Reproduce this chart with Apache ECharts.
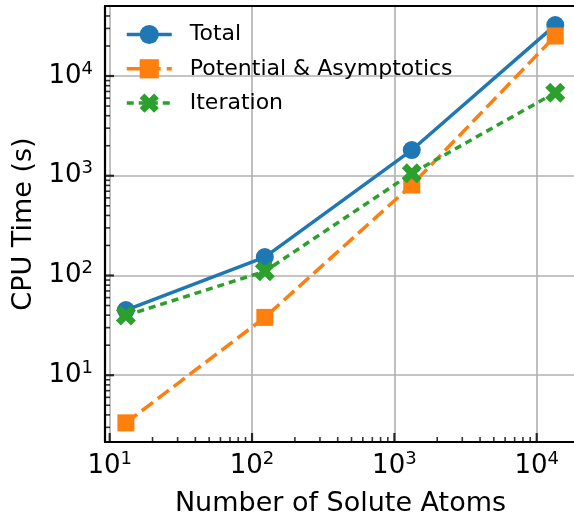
<!DOCTYPE html>
<html>
<head>
<meta charset="utf-8">
<script src="https://cdn.jsdelivr.net/npm/echarts@6/dist/echarts.min.js"></script>
<style>
html,body{margin:0;padding:0;background:#fff;}
#c{width:574px;height:514px;}
</style>
</head>
<body>
<div id="c"></div>
<script>
// ---- data ----
const atoms = [13, 123, 1325, 13500];
const totalTime = [45, 153, 1810, 32400];
const potentialTime = [3.33, 38, 807, 25200];
const iterationTime = [39.7, 110, 1057, 6810];
const seriesNames = ['Total', 'Potential & Asymptotics', 'Iteration'];
const xMajorTicks = [10, 100, 1000, 10000];
const yMajorTicks = [10, 100, 1000, 10000];
const xMinorTicks = [20,30,40,50,60,70,80,90,200,300,400,500,600,700,800,900,2000,3000,4000,5000,6000,7000,8000,9000];
const yMinorTicks = [3,4,5,6,7,8,9,20,30,40,50,60,70,80,90,200,300,400,500,600,700,800,900,2000,3000,4000,5000,6000,7000,8000,9000,20000,30000,40000];
const xRange = [9.27, 18880];
const yRange = [2.14, 50350];

const FONT = 'DejaVu Sans';
// filled X marker (matplotlib 'X'): plus rotated 45deg
function xPath() {
  const pts = [[-1,-3],[1,-3],[1,-1],[3,-1],[3,1],[1,1],[1,3],[-1,3],[-1,1],[-3,1],[-3,-1],[-1,-1]];
  const c = Math.SQRT1_2;
  const r = pts.map(p => [(p[0]*c - p[1]*c), (p[0]*c + p[1]*c)]);
  return 'path://' + r.map((p,i)=>(i?'L':'M') + (p[0]*10+30).toFixed(3) + ' ' + (p[1]*10+30).toFixed(3)).join(' ') + ' Z';
}
function pow10Label(v) {
  const l = Math.log10(v);
  const e = Math.round(l);
  if (Math.abs(l - e) > 1e-6) return '';
  return '{b|10}{s|' + e + '}';
}
const labelRich = {
  b: {fontFamily: FONT, fontSize: 26, color: '#000', lineHeight: 30},
  s: {fontFamily: FONT, fontSize: 18, color: '#000', padding: [0,0,14,0], lineHeight: 18}
};
const tickSeries = (data, size, offset) => ({
  type: 'scatter', silent: true, clip: false, animation: false,
  data, symbol: 'rect', symbolSize: size, symbolOffset: offset,
  itemStyle: {color: '#000'}, z: 5
});

const chart = echarts.init(document.getElementById('c'), null, {renderer: 'canvas'});
const mk = (name, data, color, symbol, size, type) => ({
  name, type: 'line', data: atoms.map((x,i)=>[x, data[i]]),
  symbol, symbolSize: size, showSymbol: true,
  lineStyle: {color, width: 3.5, type},
  itemStyle: {color, borderWidth: 0},
  clip: false, animation: false
});
const xAxisBase = {
  type: 'log', min: xRange[0], max: xRange[1], splitNumber: 4
};
chart.setOption({
  animation: false,
  grid: {left: 105, right: -2, top: 6, bottom: 72, containLabel: false, outerBoundsMode: 'none'},
  xAxis: [Object.assign({}, xAxisBase, {
    name: 'Number of Solute Atoms', nameLocation: 'middle', nameGap: 48,
    nameTextStyle: {fontFamily: FONT, fontSize: 27, color: '#000'},
    axisLine: {show: true, lineStyle: {color: '#000', width: 2.2}},
    axisTick: {show: false},
    minorTick: {show: false},
    axisLabel: {formatter: pow10Label, rich: labelRich, margin: 9, showMinLabel: true, showMaxLabel: true},
    splitLine: {show: true, lineStyle: {color: '#b0b0b0', width: 1.6}}
  }), Object.assign({}, xAxisBase, {
    position: 'top',
    axisLine: {show: true, lineStyle: {color: '#000', width: 2.2}},
    axisTick: {show: false}, axisLabel: {show: false}, splitLine: {show: false}
  })],
  yAxis: {
    type: 'log', min: yRange[0], max: yRange[1], splitNumber: 5,
    name: 'CPU Time (s)', nameLocation: 'middle', nameGap: 67,
    nameTextStyle: {fontFamily: FONT, fontSize: 27, color: '#000'},
    axisLine: {show: true, lineStyle: {color: '#000', width: 2.2}},
    axisTick: {show: false},
    minorTick: {show: false},
    axisLabel: {formatter: pow10Label, rich: labelRich, margin: 12},
    splitLine: {show: true, lineStyle: {color: '#b0b0b0', width: 1.6}}
  },
  legend: {
    orient: 'vertical', left: 125, top: 22.5, padding: 0,
    itemWidth: 45, itemHeight: 24, itemGap: 10.3,
    data: seriesNames,
    lineStyle: {width: 3.5},
    textStyle: {fontFamily: FONT, fontSize: 22, color: '#000', lineHeight: 24, padding: [0,0,0,13]}
  },
  series: [
    mk(seriesNames[0], totalTime, '#1f77b4', 'circle', 18, 'solid'),
    mk(seriesNames[1], potentialTime, '#ff7f0e', 'rect', 17, [14, 6]),
    mk(seriesNames[2], iterationTime, '#2ca02c', xPath(), 20, [7, 5]),
    tickSeries(xMinorTicks.map(v => [v, yRange[0]]), [1.6, 5], [0, -2.5]),
    tickSeries(yMinorTicks.map(v => [xRange[0], v]), [5, 1.6], [2.5, 0]),
    tickSeries(xMajorTicks.map(v => [v, yRange[0]]), [2.2, 9], [0, -4.5]),
    tickSeries(yMajorTicks.map(v => [xRange[0], v]), [9, 2.2], [4.5, 0])
  ]
});
</script>
</body>
</html>
